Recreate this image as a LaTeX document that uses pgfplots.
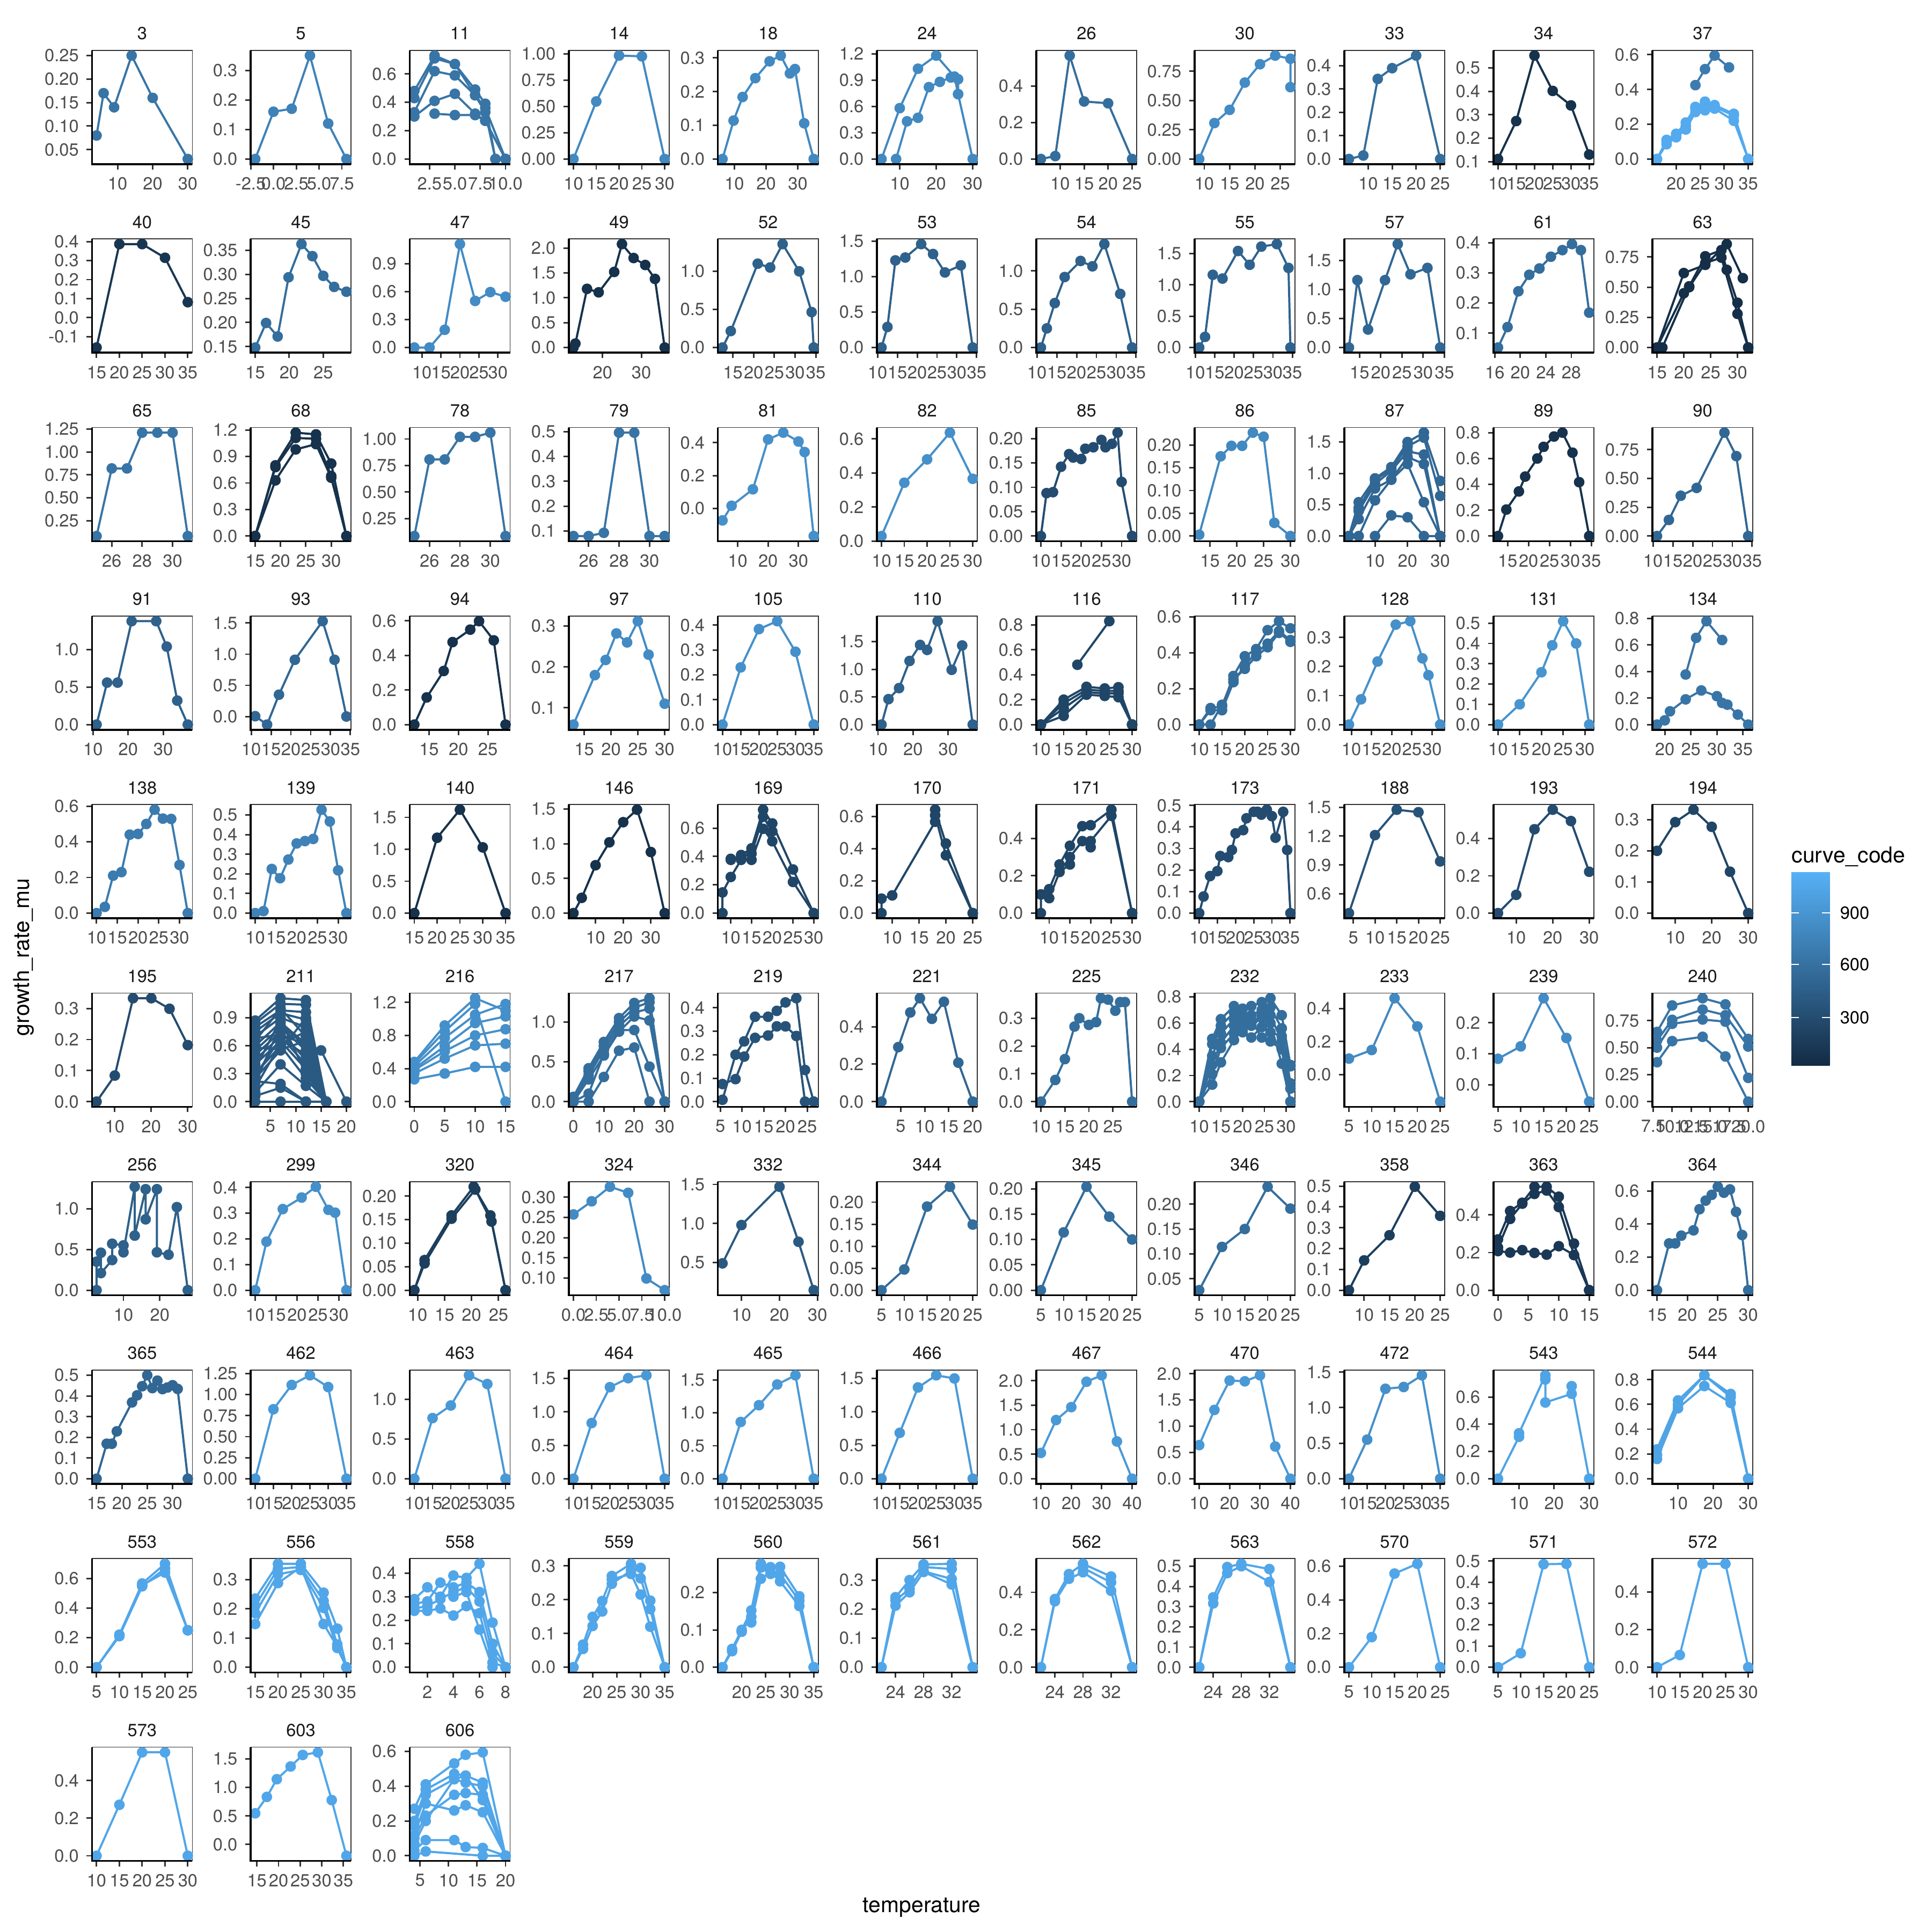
\documentclass[border=0pt]{standalone}
\usepackage{fontspec}
\setmainfont{TeX Gyre Heros}
\usepackage{pgfplots}
\pgfplotsset{compat=1.18}
\definecolor{lo}{HTML}{132B43}
\definecolor{hi}{HTML}{56B1F7}
\definecolor{gthirty}{HTML}{4D4D4D}
\definecolor{gtwenty}{HTML}{333333}
\newcommand{\tf}{\fontsize{7.84}{9}\selectfont}
\newcommand{\bigf}{\fontsize{9.8}{11}\selectfont}
\def\cA{41.14pt}\def\cB{112.08pt}\def\cC{183.24pt}\def\cD{254.40pt}\def\cE{321.05pt}\def\cF{392.16pt}
\def\cG{463.44pt}\def\cH{534.24pt}\def\cI{601.20pt}\def\cJ{667.85pt}\def\cK{738.96pt}
\def\rA{22.54pt}\def\rB{106.85pt}\def\rC{191.16pt}\def\rD{275.47pt}\def\rE{359.78pt}
\def\rF{444.09pt}\def\rG{528.40pt}\def\rH{612.71pt}\def\rI{697.02pt}\def\rJ{781.33pt}
\pgfplotsset{
  P/.style={scale only axis, width=44.88pt, height=50.88pt, anchor=north west,
    enlarge x limits=0.05, enlarge y limits=0.05,
    axis line style={line width=0.4pt, gtwenty},
    tick align=outside, tick pos=left,
    major tick length=2.4pt,
    major tick style={line width=0.7pt, gtwenty},
    minor tick num=0,
    tick label style={font=\tf, text=gthirty},
    scaled ticks=false,
    /pgf/number format/assume math mode=true,
    xticklabel style={/pgf/number format/fixed},
    yticklabel style={/pgf/number format/fixed},
    title style={font=\tf, text=black!90, at={(0.5,1)}, anchor=base, yshift=-1.2pt, inner sep=0pt},
    after end axis/.code={\draw[black, line width=0.85pt] (rel axis cs:0,1) -- (rel axis cs:0,0) -- (rel axis cs:1,0);},
  },
  yp1/.style={yticklabel style={/pgf/number format/fixed,/pgf/number format/fixed zerofill,/pgf/number format/precision=1}},
  yp2/.style={yticklabel style={/pgf/number format/fixed,/pgf/number format/fixed zerofill,/pgf/number format/precision=2}},
  xp1/.style={xticklabel style={/pgf/number format/fixed,/pgf/number format/fixed zerofill,/pgf/number format/precision=1}},
  cc/.style={color=hi!#1!lo, mark=*, line width=0.95pt, mark size=1.9pt, line join=round, mark options={solid}},
}
\begin{document}
\begin{tikzpicture}
\useasboundingbox (0,0) rectangle (864pt,-864pt);
% ---------------- row 1
\begin{axis}[P,at={(\cA,-\rA)},title={3},xtick={10,20,30},ytick={0.05,0.1,0.15,0.2,0.25},yp2]
\addplot[cc=55] coordinates {(4,0.08)(6,0.17)(9,0.14)(14,0.25)(20,0.16)(30,0.03)};
\end{axis}
\begin{axis}[P,at={(\cB,-\rA)},title={5},enlarge x limits=false,xmin=-2.505,xmax=8.5,xtick={-2.5,0,2.5,5,7.5},xp1,ytick={0,0.1,0.2,0.3},yp1]
\addplot[cc=65] coordinates {(-2,0)(0,0.16)(2,0.17)(4,0.35)(6,0.12)(8,0)};
\end{axis}
\begin{axis}[P,at={(\cC,-\rA)},title={11},xtick={2.5,5,7.5,10},xp1,ytick={0,0.2,0.4,0.6},yp1]
\addplot[cc=55] coordinates {(1,0.48)(3,0.73)(5,0.67)(7,0.49)(8,0.39)(9,0)};
\addplot[cc=55] coordinates {(1,0.43)(3,0.71)(5,0.67)(7,0.45)(8,0.36)(10,0)};
\addplot[cc=55] coordinates {(1,0.33)(3,0.62)(5,0.59)(7,0.45)(8,0.33)(9,0)};
\addplot[cc=55] coordinates {(1,0.30)(3,0.41)(5,0.46)(7,0.32)(8,0.27)(10,0)};
\addplot[cc=55] coordinates {(3,0.32)(5,0.31)(7,0.31)(8,0.27)(10,0)};
\end{axis}
\begin{axis}[P,at={(\cD,-\rA)},title={14},xtick={10,15,20,25,30},ytick={0,0.25,0.5,0.75,1},yp2]
\addplot[cc=70] coordinates {(10,0)(15,0.547)(20,0.983)(25,0.976)(30,0)};
\end{axis}
\begin{axis}[P,at={(\cE,-\rA)},title={18},xtick={10,20,30},ytick={0,0.1,0.2,0.3},yp1]
\addplot[cc=70] coordinates {(6.25,0)(9.75,0.114)(12.6,0.184)(16.6,0.24)(21.1,0.29)(24.6,0.307)(27.5,0.254)(29.1,0.267)(32,0.106)(35,0)};
\end{axis}
\begin{axis}[P,at={(\cF,-\rA)},title={24},xtick={10,20,30},ytick={0,0.3,0.6,0.9,1.2},yp1]
\addplot[cc=70] coordinates {(5,0)(10,0.58)(15,1.03)(20,1.18)(25,0.94)(26,0.74)(30,0)};
\addplot[cc=70] coordinates {(9,0)(12,0.43)(15,0.47)(18,0.82)(21,0.88)(24,0.93)(26,0.91)(26,0.74)};
\end{axis}
\begin{axis}[P,at={(\cG,-\rA)},title={26},xtick={10,15,20,25},ytick={0,0.2,0.4},yp1]
\addplot[cc=50] coordinates {(6,0)(9,0.016)(12,0.568)(15,0.316)(20,0.306)(25,0)};
\end{axis}
\begin{axis}[P,at={(\cH,-\rA)},title={30},xtick={10,15,20,25},ytick={0,0.25,0.5,0.75},yp2]
\addplot[cc=72] coordinates {(9,0)(12,0.307)(15,0.42)(18,0.653)(21,0.81)(24,0.884)(27,0.857)(27,0.614)};
\end{axis}
\begin{axis}[P,at={(\cI,-\rA)},title={33},xtick={10,15,20,25},ytick={0,0.1,0.2,0.3,0.4},yp1]
\addplot[cc=50] coordinates {(6,0)(9,0.015)(12,0.343)(15,0.389)(20,0.443)(25,0)};
\end{axis}
\begin{axis}[P,at={(\cJ,-\rA)},title={34},xtick={10,15,20,25,30,35},ytick={0.1,0.2,0.3,0.4,0.5},yp1]
\addplot[cc=5] coordinates {(10,0.111)(15,0.273)(20,0.553)(25,0.402)(30,0.34)(35,0.13)};
\end{axis}
\begin{axis}[P,at={(\cK,-\rA)},title={37},xtick={20,25,30,35},ytick={0,0.2,0.4,0.6},yp1]
\addplot[cc=60] coordinates {(24,0.425)(26,0.517)(28,0.595)(31,0.527)};
\addplot[cc=95] coordinates {(16,0)(18,0.11)(20,0.145)(22,0.21)(24,0.30)(26,0.33)(28,0.31)(32,0.26)(35,0)};
\addplot[cc=95] coordinates {(16,0)(18,0.085)(20,0.125)(22,0.17)(24,0.27)(26,0.28)(28,0.29)(32,0.22)(35,0)};
\addplot[cc=95] coordinates {(18,0.10)(20,0.135)(22,0.19)(24,0.29)(26,0.31)(28,0.30)(32,0.25)};
\end{axis}
% ---------------- row 2
\begin{axis}[P,at={(\cA,-\rB)},title={40},xtick={15,20,25,30,35},ytick={-0.1,0,0.1,0.2,0.3,0.4},yp1]
\addplot[cc=8] coordinates {(15,-0.158)(20,0.387)(25,0.387)(30,0.315)(35,0.081)};
\end{axis}
\begin{axis}[P,at={(\cB,-\rB)},title={45},xtick={15,20,25},ytick={0.15,0.2,0.25,0.3,0.35},yp2]
\addplot[cc=50] coordinates {(15,0.148)(16.6,0.199)(18.3,0.171)(19.9,0.294)(21.8,0.363)(23.4,0.338)(25,0.297)(26.6,0.274)(28.4,0.264)};
\end{axis}
\begin{axis}[P,at={(\cC,-\rB)},title={47},xtick={10,15,20,25,30},ytick={0,0.3,0.6,0.9},yp1]
\addplot[cc=72] coordinates {(8,0)(12,0)(16,0.19)(20,1.11)(24,0.5)(28,0.595)(32,0.545)};
\end{axis}
\begin{axis}[P,at={(\cD,-\rB)},title={49},xtick={20,30},ytick={0,0.5,1,1.5,2},yp1]
\addplot[cc=5] coordinates {(12.5,0)(13,0.08)(16,1.18)(19,1.11)(23,1.52)(25,2.08)(28,1.80)(31,1.66)(33.5,1.38)(36,0)};
\end{axis}
\begin{axis}[P,at={(\cE,-\rB)},title={52},xtick={15,20,25,30,35},ytick={0,0.5,1},yp1]
\addplot[cc=40] coordinates {(12.5,0)(14.5,0.216)(21,1.10)(24,1.05)(27,1.357)(31,1.0)(34,0.465)(34.5,0)};
\end{axis}
\begin{axis}[P,at={(\cF,-\rB)},title={53},xtick={10,15,20,25,30,35},ytick={0,0.5,1,1.5},yp1]
\addplot[cc=40] coordinates {(11,0)(12.5,0.29)(14.5,1.23)(17,1.27)(21,1.46)(24,1.32)(27,1.06)(31,1.16)(34,0)};
\end{axis}
\begin{axis}[P,at={(\cG,-\rB)},title={54},xtick={10,15,20,25,30,35},ytick={0,0.5,1},yp1]
\addplot[cc=40] coordinates {(11,0)(12.5,0.25)(14.5,0.58)(17,0.92)(21,1.13)(24,1.06)(27,1.35)(31,0.70)(34,0)};
\end{axis}
\begin{axis}[P,at={(\cH,-\rB)},title={55},xtick={10,15,20,25,30,35},ytick={0,0.5,1,1.5},yp1]
\addplot[cc=42] coordinates {(11,0)(12.5,0.17)(14.5,1.16)(17,1.10)(21,1.54)(24,1.32)(27,1.61)(31,1.65)(34,1.27)(34.5,0)};
\end{axis}
\begin{axis}[P,at={(\cI,-\rB)},title={57},xtick={15,20,25,30,35},ytick={0,0.5,1,1.5},yp1]
\addplot[cc=45] coordinates {(12.5,0)(14.5,1.16)(17,0.31)(21,1.16)(24,1.78)(27,1.26)(31,1.37)(34,0)};
\end{axis}
\begin{axis}[P,at={(\cJ,-\rB)},title={61},xtick={16,20,24,28},ytick={0.1,0.2,0.3,0.4},yp1]
\addplot[cc=50] coordinates {(16.5,0.052)(18,0.12)(19.7,0.239)(21.4,0.294)(23,0.315)(24.8,0.354)(26.6,0.376)(28.1,0.396)(29.5,0.376)(30.8,0.168)};
\end{axis}
\begin{axis}[P,at={(\cK,-\rB)},title={63},xtick={15,20,25,30},ytick={0,0.25,0.5,0.75},yp2]
\addplot[cc=3] coordinates {(15,0)(20,0.617)(24,0.685)(28,0.857)(31,0.575)};
\addplot[cc=3] coordinates {(16,0)(21,0.507)(24,0.756)(27,0.807)(28,0.644)(30,0.371)(32,0)};
\addplot[cc=3] coordinates {(15,0)(20,0.45)(21,0.50)(24,0.70)(27,0.745)(30,0.279)(32,0)};
\end{axis}
% ---------------- row 3
\begin{axis}[P,at={(\cA,-\rC)},title={65},xtick={26,28,30},ytick={0.25,0.5,0.75,1,1.25},yp2]
\addplot[cc=55] coordinates {(25,0.083)(26,0.82)(27,0.82)(28,1.21)(29,1.21)(30,1.21)(31,0.083)};
\end{axis}
\begin{axis}[P,at={(\cB,-\rC)},title={68},xtick={15,20,25,30},ytick={0,0.3,0.6,0.9,1.2},yp1]
\addplot[cc=5] coordinates {(15,0)(19,0.80)(23,1.17)(27,1.15)(30,0.82)(33,0)};
\addplot[cc=5] coordinates {(15,0)(19,0.78)(23,1.11)(27,1.10)(30,0.68)(33,0)};
\addplot[cc=5] coordinates {(15,0)(19,0.63)(23,0.98)(27,1.04)(30,0.66)(33,0)};
\end{axis}
\begin{axis}[P,at={(\cC,-\rC)},title={78},xtick={26,28,30},ytick={0.25,0.5,0.75,1},yp2]
\addplot[cc=55] coordinates {(25,0.084)(26,0.807)(27,0.807)(28,1.02)(29,1.02)(30,1.06)(31,0.084)};
\end{axis}
\begin{axis}[P,at={(\cD,-\rC)},title={79},xtick={26,28,30},ytick={0.1,0.2,0.3,0.4,0.5},yp1]
\addplot[cc=55] coordinates {(25,0.08)(26,0.08)(27,0.093)(28,0.496)(29,0.496)(30,0.08)(31,0.08)};
\end{axis}
\begin{axis}[P,at={(\cE,-\rC)},title={81},xtick={10,20,30},ytick={0,0.2,0.4},yp1]
\addplot[cc=75] coordinates {(5,-0.072)(8,0.017)(15,0.117)(20,0.42)(25,0.461)(30,0.407)(32,0.343)(35,-0.167)};
\end{axis}
\begin{axis}[P,at={(\cF,-\rC)},title={82},xtick={10,15,20,25,30},ytick={0,0.2,0.4,0.6},yp1]
\addplot[cc=75] coordinates {(10,0.03)(15,0.343)(20,0.48)(25,0.637)(30,0.366)};
\end{axis}
\begin{axis}[P,at={(\cG,-\rC)},title={85},xtick={10,15,20,25,30},ytick={0,0.05,0.1,0.15,0.2},yp2]
\addplot[cc=25] coordinates {(10,0)(11.4,0.088)(13,0.09)(15,0.142)(17,0.168)(18,0.161)(20,0.158)(21,0.179)(23,0.182)(25,0.197)(26,0.182)(27.6,0.189)(29,0.212)(30,0.111)(32.6,0)};
\end{axis}
\begin{axis}[P,at={(\cH,-\rC)},title={86},xtick={15,20,25,30},ytick={0,0.05,0.1,0.15,0.2},yp2]
\addplot[cc=70] coordinates {(13,0.003)(17,0.175)(19,0.198)(21,0.198)(23,0.227)(25,0.218)(27,0.029)(30,0)};
\end{axis}
\begin{axis}[P,at={(\cI,-\rC)},title={87},xtick={10,20,30},ytick={0,0.5,1,1.5},yp1]
\addplot[cc=45] coordinates {(2,0)(5,0.54)(10,0.92)(15,1.10)(20,1.50)(25,1.65)(30,0.88)};
\addplot[cc=45] coordinates {(2,0)(5,0.45)(10,0.89)(15,1.07)(20,1.43)(25,1.57)(30,0.64)};
\addplot[cc=45] coordinates {(2,0)(5,0.40)(10,0.83)(15,1.04)(20,1.35)(25,1.30)(30,0)};
\addplot[cc=45] coordinates {(2,0)(5,0.27)(10,0.76)(15,0.90)(20,1.26)(25,1.15)(30,0)};
\addplot[cc=45] coordinates {(2,0)(5,0)(10,0.57)(15,0.90)(20,1.15)(25,0.54)(30,0)};
\addplot[cc=45] coordinates {(10,0)(15,0.33)(20,0.30)(25,0)(30,0)};
\end{axis}
\begin{axis}[P,at={(\cJ,-\rC)},title={89},xtick={15,20,25,30,35},ytick={0,0.2,0.4,0.6,0.8},yp1]
\addplot[cc=5] coordinates {(12.7,0)(14.7,0.205)(17.7,0.345)(19.2,0.46)(22.1,0.60)(23.6,0.69)(26.1,0.77)(28.1,0.80)(30.5,0.645)(32.1,0.417)(34.5,0)};
\end{axis}
\begin{axis}[P,at={(\cK,-\rC)},title={90},xtick={10,15,20,25,30,35},ytick={0,0.25,0.5,0.75},yp2]
\addplot[cc=45] coordinates {(11,0)(14,0.14)(17,0.35)(21,0.418)(28,0.898)(31,0.694)(34,0)};
\end{axis}
% ---------------- row 4
\begin{axis}[P,at={(\cA,-\rD)},title={91},xtick={10,20,30},ytick={0,0.5,1},yp1]
\addplot[cc=40] coordinates {(11,0)(14,0.56)(17,0.56)(21,1.38)(28,1.38)(31,1.04)(34,0.32)(37,0)};
\end{axis}
\begin{axis}[P,at={(\cB,-\rD)},title={93},xtick={10,15,20,25,30,35},ytick={0,0.5,1,1.5},yp1]
\addplot[cc=45] coordinates {(11,0.005)(14,-0.13)(17,0.35)(21,0.91)(28,1.53)(31,0.91)(34,0)};
\end{axis}
\begin{axis}[P,at={(\cC,-\rD)},title={94},xtick={15,20,25},ytick={0,0.2,0.4,0.6},yp1]
\addplot[cc=5] coordinates {(12.5,0)(14.6,0.157)(17.5,0.31)(19,0.477)(22,0.549)(23.5,0.598)(26,0.487)(28,0)};
\end{axis}
\begin{axis}[P,at={(\cD,-\rD)},title={97},xtick={15,20,25,30},ytick={0.1,0.2,0.3},yp1]
\addplot[cc=72] coordinates {(13,0.059)(17,0.18)(19,0.217)(21,0.282)(23,0.26)(25,0.312)(27,0.23)(30,0.11)};
\end{axis}
\begin{axis}[P,at={(\cE,-\rD)},title={105},xtick={10,15,20,25,30,35},ytick={0,0.1,0.2,0.3,0.4},yp1]
\addplot[cc=75] coordinates {(10,0)(15,0.23)(20,0.384)(25,0.416)(30,0.293)(35,0)};
\end{axis}
\begin{axis}[P,at={(\cF,-\rD)},title={110},xtick={10,20,30},ytick={0,0.5,1,1.5},yp1]
\addplot[cc=40] coordinates {(11,0)(13,0.46)(16,0.66)(19,1.15)(22,1.44)(24,1.35)(27,1.87)(31,0.99)(34,1.43)(37,0)};
\end{axis}
\begin{axis}[P,at={(\cG,-\rD)},title={116},xtick={10,15,20,25,30},ytick={0,0.2,0.4,0.6,0.8},yp1]
\addplot[cc=20] coordinates {(10,0)(15,0.20)(20,0.303)(24,0.29)(27,0.30)(30,0)};
\addplot[cc=20] coordinates {(10,0)(15,0.17)(20,0.28)(24,0.27)(27,0.27)(30,0)};
\addplot[cc=20] coordinates {(10,0)(15,0.13)(20,0.26)(24,0.25)(27,0.25)(30,0)};
\addplot[cc=20] coordinates {(10,0)(15,0.07)(20,0.24)(24,0.23)(27,0.22)(30,0)};
\addplot[cc=20] coordinates {(18,0.48)(25,0.83)};
\end{axis}
\begin{axis}[P,at={(\cH,-\rD)},title={117},xtick={10,15,20,25,30},ytick={0,0.2,0.4,0.6},yp1]
\addplot[cc=50] coordinates {(10,0)(12.5,0.092)(15,0.10)(17.5,0.27)(20,0.38)(22.5,0.42)(25,0.525)(27.5,0.575)(30,0.535)};
\addplot[cc=50] coordinates {(10,0)(12.5,0.08)(15,0.08)(17.5,0.236)(20,0.33)(22.5,0.40)(25,0.45)(27.5,0.52)(30,0.47)};
\addplot[cc=50] coordinates {(10,0)(12.5,0)(15,0.11)(17.5,0.25)(20,0.31)(22.5,0.38)(25,0.43)(27.5,0.51)(30,0.46)};
\end{axis}
\begin{axis}[P,at={(\cI,-\rD)},title={128},xtick={10,15,20,25,30},ytick={0,0.1,0.2,0.3},yp1]
\addplot[cc=75] coordinates {(9.4,0)(12.4,0.087)(16.5,0.217)(21,0.344)(24.6,0.356)(27.6,0.228)(29.1,0.17)(32,0)};
\end{axis}
\begin{axis}[P,at={(\cJ,-\rD)},title={131},xtick={10,15,20,25,30},ytick={0,0.1,0.2,0.3,0.4,0.5},yp1]
\addplot[cc=78] coordinates {(10,0)(15,0.10)(20,0.258)(22.5,0.391)(25,0.51)(28,0.40)(31,0)};
\end{axis}
\begin{axis}[P,at={(\cK,-\rD)},title={134},xtick={20,25,30,35},ytick={0,0.2,0.4,0.6,0.8},yp1]
\addplot[cc=55] coordinates {(24,0.377)(26,0.653)(28,0.779)(31,0.637)};
\addplot[cc=55] coordinates {(18.5,0)(20,0.032)(21,0.10)(24,0.19)(27,0.257)(30,0.214)(31,0.163)(32,0.15)(34,0.075)(36,0)};
\end{axis}
% ---------------- row 5
\begin{axis}[P,at={(\cA,-\rE)},title={138},xtick={10,15,20,25,30},ytick={0,0.2,0.4,0.6},yp1]
\addplot[cc=60] coordinates {(10,0)(12,0.035)(14,0.21)(16,0.23)(18,0.44)(20,0.444)(22,0.50)(24,0.58)(26,0.53)(28,0.528)(30,0.27)(32,0)};
\end{axis}
\begin{axis}[P,at={(\cB,-\rE)},title={139},xtick={10,15,20,25,30},ytick={0,0.1,0.2,0.3,0.4,0.5},yp1]
\addplot[cc=65] coordinates {(10,0)(12,0.01)(14,0.225)(16,0.178)(18,0.273)(20,0.355)(22,0.367)(24,0.378)(26,0.527)(28,0.467)(30,0.218)(32,0)};
\end{axis}
\begin{axis}[P,at={(\cC,-\rE)},title={140},xtick={15,20,25,30,35},ytick={0,0.5,1,1.5},yp1]
\addplot[cc=5] coordinates {(15,0)(20,1.18)(25,1.62)(30,1.03)(35,0)};
\end{axis}
\begin{axis}[P,at={(\cD,-\rE)},title={146},xtick={10,20,30},ytick={0,0.5,1,1.5},yp1]
\addplot[cc=5] coordinates {(2,0)(5,0.22)(10,0.69)(15,1.02)(20,1.31)(25,1.49)(30,0.88)(35,0)};
\end{axis}
\begin{axis}[P,at={(\cE,-\rE)},title={169},xtick={10,15,20,25,30},ytick={0,0.2,0.4,0.6},yp1]
\addplot[cc=20] coordinates {(8,0)(8,0.146)(10,0.255)(12.5,0.376)(15,0.376)(17.8,0.595)(20,0.507)(25,0.22)(30,0)};
\addplot[cc=20] coordinates {(10,0.376)(12.5,0.41)(15,0.457)(17.8,0.73)(20,0.633)(25,0.308)(30,0)};
\addplot[cc=20] coordinates {(10,0.383)(12.5,0.39)(15,0.42)(17.8,0.68)(20,0.577)};
\end{axis}
\begin{axis}[P,at={(\cF,-\rE)},title={170},xtick={10,15,20,25},ytick={0,0.2,0.4,0.6},yp1]
\addplot[cc=20] coordinates {(8,0)(8,0.09)(10,0.11)(18,0.567)(18,0.642)(20,0.432)(25,0)};
\addplot[cc=20] coordinates {(18,0.607)(20,0.359)(25,0)};
\end{axis}
\begin{axis}[P,at={(\cG,-\rE)},title={171},xtick={10,15,20,25,30},ytick={0,0.2,0.4},yp1]
\addplot[cc=20] coordinates {(8,0)(8,0.10)(10,0.128)(12.5,0.26)(15,0.36)(18,0.465)(20,0.47)(25,0.553)(30,0)};
\addplot[cc=20] coordinates {(8,0.10)(10,0.08)(12.5,0.22)(15,0.26)(15,0.30)(18,0.385)(20,0.352)(20,0.385)(25,0.52)(30,0)};
\end{axis}
\begin{axis}[P,at={(\cH,-\rE)},title={173},xtick={10,15,20,25,30,35},ytick={0,0.1,0.2,0.3,0.4,0.5},yp1]
\addplot[cc=25] coordinates {(10,0)(11.2,0.077)(13,0.172)(15,0.195)(15.8,0.265)(18,0.26)(19,0.293)(20,0.37)(22.1,0.385)(23,0.44)(25,0.47)(26.1,0.47)(27.1,0.457)(28.6,0.48)(30,0.45)(31,0.35)(33.1,0.47)(34.2,0.293)(35.1,0)};
\end{axis}
\begin{axis}[P,at={(\cI,-\rE)},title={188},xtick={5,10,15,20,25},ytick={0.6,0.9,1.2,1.5},yp1]
\addplot[cc=30] coordinates {(4,0.40)(10,1.21)(15,1.474)(20,1.448)(25,0.937)};
\end{axis}
\begin{axis}[P,at={(\cJ,-\rE)},title={193},xtick={10,20,30},ytick={0,0.2,0.4},yp1]
\addplot[cc=25] coordinates {(5,0)(10,0.098)(15,0.45)(20,0.555)(25,0.494)(30,0.222)};
\end{axis}
\begin{axis}[P,at={(\cK,-\rE)},title={194},xtick={10,20,30},ytick={0,0.1,0.2,0.3},yp1]
\addplot[cc=20] coordinates {(5,0.20)(10,0.292)(15,0.332)(20,0.277)(25,0.133)(30,0)};
\end{axis}
% ---------------- row 6
\begin{axis}[P,at={(\cA,-\rF)},title={195},xtick={10,20,30},ytick={0,0.1,0.2,0.3},yp1]
\addplot[cc=25] coordinates {(5,0)(10,0.084)(15,0.333)(20,0.333)(25,0.299)(30,0.182)};
\end{axis}
\begin{axis}[P,at={(\cB,-\rF)},title={211},xtick={5,10,15,20},ytick={0,0.3,0.6,0.9},yp1]
\addplot[cc=35] coordinates {(2,0.87)(7,1.11)(12,1.09)(16,0)};
\addplot[cc=35] coordinates {(2,0.84)(7,1.05)(12,1.04)(16,0)};
\addplot[cc=35] coordinates {(2,0.80)(7,0.98)(12,0.96)(16,0)};
\addplot[cc=35] coordinates {(2,0.75)(7,0.95)(12,0.88)(16,0)};
\addplot[cc=35] coordinates {(2,0.70)(7,0.90)(12,0.80)(16,0)};
\addplot[cc=35] coordinates {(2,0.65)(7,1.00)(12,0.70)(16,0)};
\addplot[cc=35] coordinates {(2,0.60)(7,0.85)(12,0.62)(16,0)};
\addplot[cc=35] coordinates {(2,0.55)(7,0.80)(12,0.55)(16,0)};
\addplot[cc=35] coordinates {(2,0.50)(7,0.75)(12,0.45)(16,0)};
\addplot[cc=35] coordinates {(2,0.45)(7,0.70)(12,0.40)(16,0)};
\addplot[cc=35] coordinates {(2,0.40)(7,0.65)(12,0.35)(16,0)};
\addplot[cc=35] coordinates {(2,0.35)(7,0.88)(12,0.30)(16,0)};
\addplot[cc=35] coordinates {(2,0.30)(7,0.60)(12,0.25)(16,0)};
\addplot[cc=35] coordinates {(2,0.25)(7,0.55)(12,0.90)(16,0)};
\addplot[cc=35] coordinates {(2,0.20)(7,0.82)(12,0.60)(16,0)};
\addplot[cc=35] coordinates {(2,0.15)(7,0.62)(12,0.75)(16,0)};
\addplot[cc=35] coordinates {(2,0.10)(7,0.40)(12,0.17)(16,0)};
\addplot[cc=35] coordinates {(2,0.22)(7,0.19)(12,0)(16,0)};
\addplot[cc=35] coordinates {(2,0.06)(7,0.15)(12,0)(16,0)};
\addplot[cc=35] coordinates {(2,0)(7,0)(12,0)(16,0)};
\addplot[cc=35] coordinates {(2,0.68)(7,0.72)(15,0.55)(20,0)};
\addplot[cc=35] coordinates {(2,0.58)(7,0.56)(12,0.65)(16,0)};
\addplot[cc=35] coordinates {(2,0.28)(7,0.68)(12,0.50)(16,0)};
\end{axis}
\begin{axis}[P,at={(\cC,-\rF)},title={216},xtick={0,5,10,15},ytick={0,0.4,0.8,1.2},yp1]
\addplot[cc=75] coordinates {(0,0.48)(5,0.92)(10,1.25)(15,1.10)};
\addplot[cc=75] coordinates {(0,0.46)(5,0.85)(10,1.18)(15,0)};
\addplot[cc=75] coordinates {(0,0.43)(5,0.77)(10,1.05)(15,1.18)};
\addplot[cc=75] coordinates {(0,0.40)(5,0.67)(10,0.95)(15,1.03)};
\addplot[cc=75] coordinates {(0,0.38)(5,0.61)(10,0.80)(15,0.875)};
\addplot[cc=75] coordinates {(0,0.34)(5,0.52)(10,0.68)(15,0.70)};
\addplot[cc=75] coordinates {(0,0.27)(5,0.34)(10,0.42)(15,0.42)};
\end{axis}
\begin{axis}[P,at={(\cD,-\rF)},title={217},xtick={0,10,20,30},ytick={0,0.5,1},yp1]
\addplot[cc=50] coordinates {(0,0.06)(5,0.42)(10,0.75)(15,1.05)(20,1.24)(25,1.30)(30,0)};
\addplot[cc=50] coordinates {(0,0.03)(5,0.38)(10,0.70)(15,1.00)(20,1.18)(25,1.25)(30,0)};
\addplot[cc=50] coordinates {(0,0)(5,0.33)(10,0.65)(15,0.95)(20,1.12)(25,1.17)(30,0)};
\addplot[cc=50] coordinates {(0,0)(5,0.28)(10,0.58)(15,0.88)(20,1.07)(25,1.02)(30,0)};
\addplot[cc=50] coordinates {(0,0)(5,0.10)(10,0.60)(15,0.90)(20,0.90)(25,0.44)(30,0)};
\addplot[cc=50] coordinates {(0,0)(5,0)(10,0.31)(15,0.64)(20,0.68)(25,0)};
\end{axis}
\begin{axis}[P,at={(\cE,-\rF)},title={219},xtick={5,10,15,20,25},ytick={0,0.1,0.2,0.3,0.4},yp1]
\addplot[cc=30] coordinates {(5.5,0.008)(8.5,0.20)(10.5,0.257)(13,0.362)(16,0.362)(18,0.387)(20,0.423)(22.5,0.441)(24.5,0.135)(26.5,0)};
\addplot[cc=30] coordinates {(5.5,0.075)(8.5,0.096)(10.5,0.192)(13,0.272)(16,0.282)(18,0.321)(20,0.321)(22.5,0.28)(24.5,0)(26.5,0)};
\end{axis}
\begin{axis}[P,at={(\cF,-\rF)},title={221},xtick={5,10,15,20},ytick={0,0.2,0.4},yp1]
\addplot[cc=45] coordinates {(1,0)(4.5,0.291)(7,0.476)(9,0.552)(11.5,0.442)(14,0.533)(17,0.208)(20,0)};
\end{axis}
\begin{axis}[P,at={(\cG,-\rF)},title={225},xtick={10,15,20,25},ytick={0,0.1,0.2,0.3},yp1]
\addplot[cc=50] coordinates {(10,0)(13,0.078)(15,0.153)(17,0.27)(18,0.30)(20,0.276)(21.5,0.286)(22.5,0.372)(24,0.367)(25.5,0.327)(26.5,0.358)(27.5,0.358)(29,0)};
\end{axis}
\begin{axis}[P,at={(\cH,-\rF)},title={232},xtick={10,15,20,25,30},ytick={0,0.2,0.4,0.6,0.8},yp1]
\addplot[cc=50] coordinates {(10,0)(13,0.48)(15,0.63)(18,0.73)(20,0.71)(22,0.73)(24.4,0.76)(26.4,0.79)(29,0.66)(31,0.28)};
\addplot[cc=50] coordinates {(10,0)(13,0.44)(15,0.58)(18,0.68)(20,0.66)(22,0.66)(24.4,0.70)(26.4,0.72)(29,0.56)(31,0.14)};
\addplot[cc=50] coordinates {(10,0)(13,0.35)(15,0.52)(18,0.63)(20,0.60)(22,0.58)(24.4,0.64)(26.4,0.66)(29,0.46)(31,0.10)};
\addplot[cc=50] coordinates {(10,0)(13,0.28)(15,0.45)(18,0.58)(20,0.53)(22,0.49)(24.4,0.57)(26.4,0.60)(29,0.29)(31,0)};
\addplot[cc=50] coordinates {(10,0)(13,0.21)(15,0.41)(18,0.52)(20,0.62)(22,0.62)(24.4,0.49)(26.4,0.53)(29,0.50)(31,0.27)};
\addplot[cc=50] coordinates {(10,0)(13,0.13)(15,0.30)(18,0.47)(20,0.56)(22,0.60)(24.4,0.66)(26.4,0.46)(29,0.40)(31,0)};
\end{axis}
\begin{axis}[P,at={(\cI,-\rF)},title={233},xtick={5,10,15,20,25},ytick={0,0.2,0.4},yp1]
\addplot[cc=70] coordinates {(5,0.097)(10,0.149)(15,0.463)(20,0.292)(25,-0.164)};
\end{axis}
\begin{axis}[P,at={(\cJ,-\rF)},title={239},xtick={5,10,15,20,25},ytick={0,0.1,0.2},yp1]
\addplot[cc=72] coordinates {(5,0.084)(10,0.124)(15,0.279)(20,0.151)(25,-0.054)};
\end{axis}
\begin{axis}[P,at={(\cK,-\rF)},title={240},xtick={7.5,10,12.5,15,17.5,20},xp1,ytick={0,0.25,0.5,0.75},yp2]
\addplot[cc=55] coordinates {(8,0.645)(10,0.89)(14,0.957)(17,0.90)(20,0.58)};
\addplot[cc=55] coordinates {(8,0.565)(10,0.757)(14,0.852)(17,0.80)(20,0.51)};
\addplot[cc=55] coordinates {(8,0.50)(10,0.72)(14,0.76)(17,0.74)(20,0.22)};
\addplot[cc=55] coordinates {(8,0.365)(10,0.56)(14,0.60)(17,0.418)(20,0)};
\end{axis}
% ---------------- row 7
\begin{axis}[P,at={(\cA,-\rG)},title={256},xtick={10,20},ytick={0,0.5,1},yp1]
\addplot[cc=40] coordinates {(2.6,0)(2.6,0.35)(3.8,0.46)(3.8,0.21)(6.9,0.37)(6.9,0.57)(10,0.55)(10,0.465)(13.1,1.27)(13.1,0.67)(16.1,1.24)(16.1,0.87)(19.2,1.24)(19.2,0.465)(22.4,0.435)(24.7,1.02)(27.7,0)};
\end{axis}
\begin{axis}[P,at={(\cB,-\rG)},title={299},xtick={10,15,20,25,30},ytick={0,0.1,0.2,0.3,0.4},yp1]
\addplot[cc=75] coordinates {(10,0)(12.7,0.189)(16.6,0.316)(21.1,0.361)(24.5,0.403)(27.5,0.313)(29.1,0.302)(31.8,0)};
\end{axis}
\begin{axis}[P,at={(\cC,-\rG)},title={320},xtick={10,15,20,25},ytick={0,0.05,0.1,0.15,0.2},yp2]
\addplot[cc=15] coordinates {(9.4,0)(11.3,0.064)(16.3,0.159)(20.4,0.22)(23.5,0.159)(26.3,0)};
\addplot[cc=15] coordinates {(9.4,0)(11.3,0.057)(16.3,0.152)(20.7,0.214)(23.7,0.146)(26.3,0)};
\end{axis}
\begin{axis}[P,at={(\cD,-\rG)},title={324},xtick={0,2.5,5,7.5,10},xp1,ytick={0.1,0.15,0.2,0.25,0.3},yp2]
\addplot[cc=72] coordinates {(0,0.2575)(2,0.29)(4,0.326)(6,0.311)(8,0.099)(10,0.07)};
\end{axis}
\begin{axis}[P,at={(\cE,-\rG)},title={332},xtick={10,20,30},ytick={0.5,1,1.5},yp1]
\addplot[cc=35] coordinates {(5,0.49)(10,0.98)(20,1.47)(25,0.766)(29,0.147)};
\end{axis}
\begin{axis}[P,at={(\cF,-\rG)},title={344},xtick={5,10,15,20,25},ytick={0,0.05,0.1,0.15,0.2},yp2]
\addplot[cc=50] coordinates {(5,0)(10,0.047)(15,0.19)(20,0.235)(25,0.149)};
\end{axis}
\begin{axis}[P,at={(\cG,-\rG)},title={345},xtick={5,10,15,20,25},ytick={0,0.05,0.1,0.15,0.2},yp2]
\addplot[cc=50] coordinates {(5,0)(10,0.114)(15,0.204)(20,0.145)(25,0.10)};
\end{axis}
\begin{axis}[P,at={(\cH,-\rG)},title={346},xtick={5,10,15,20,25},ytick={0.05,0.1,0.15,0.2},yp2]
\addplot[cc=50] coordinates {(5,0.027)(10,0.114)(15,0.15)(20,0.235)(25,0.191)};
\end{axis}
\begin{axis}[P,at={(\cI,-\rG)},title={358},xtick={10,15,20,25},ytick={0,0.1,0.2,0.3,0.4,0.5},yp1]
\addplot[cc=15] coordinates {(7,0)(10,0.143)(15,0.264)(20,0.497)(25,0.357)};
\end{axis}
\begin{axis}[P,at={(\cJ,-\rG)},title={363},xtick={0,5,10,15},ytick={0,0.2,0.4},yp1]
\addplot[cc=10] coordinates {(0,0.27)(2,0.421)(4,0.465)(6,0.55)(8,0.55)(10,0.497)(12.5,0.248)(15,0)};
\addplot[cc=10] coordinates {(0,0.227)(2,0.379)(4,0.46)(6,0.512)(8,0.53)(10,0.442)(12.5,0.187)(15,0)};
\addplot[cc=10] coordinates {(0,0.208)(2,0.20)(4,0.213)(6,0.198)(8,0.189)(10,0.234)(12.5,0.187)(15,0)};
\end{axis}
\begin{axis}[P,at={(\cK,-\rG)},title={364},xtick={15,20,25,30},ytick={0,0.2,0.4,0.6},yp1]
\addplot[cc=50] coordinates {(15,0)(17,0.283)(18,0.283)(19,0.33)(21,0.362)(22,0.49)(23,0.542)(24,0.577)(25,0.626)(26,0.59)(27,0.61)(28,0.474)(29,0.334)(30,0)};
\end{axis}
% ---------------- row 8
\begin{axis}[P,at={(\cA,-\rH)},title={365},xtick={15,20,25,30},ytick={0,0.1,0.2,0.3,0.4,0.5},yp1]
\addplot[cc=45] coordinates {(15,0)(17,0.169)(18,0.169)(19,0.229)(22,0.369)(23,0.403)(24,0.447)(25,0.50)(26,0.438)(27,0.474)(28,0.433)(29,0.441)(30,0.452)(31,0.434)(33,0)};
\end{axis}
\begin{axis}[P,at={(\cB,-\rH)},title={462},xtick={10,15,20,25,30,35},ytick={0,0.25,0.5,0.75,1,1.25},yp2]
\addplot[cc=82] coordinates {(10,0)(15,0.826)(20,1.115)(25,1.23)(30,1.09)(35,0)};
\end{axis}
\begin{axis}[P,at={(\cC,-\rH)},title={463},xtick={10,15,20,25,30,35},ytick={0,0.5,1},yp1]
\addplot[cc=82] coordinates {(10,0)(15,0.762)(20,0.92)(25,1.30)(30,1.19)(35,0)};
\end{axis}
\begin{axis}[P,at={(\cD,-\rH)},title={464},xtick={10,15,20,25,30,35},ytick={0,0.5,1,1.5},yp1]
\addplot[cc=82] coordinates {(10,0)(15,0.833)(20,1.37)(25,1.505)(30,1.548)(35,0)};
\end{axis}
\begin{axis}[P,at={(\cE,-\rH)},title={465},xtick={10,15,20,25,30,35},ytick={0,0.5,1,1.5},yp1]
\addplot[cc=82] coordinates {(10,0)(15,0.861)(20,1.116)(25,1.43)(30,1.57)(35,0)};
\end{axis}
\begin{axis}[P,at={(\cF,-\rH)},title={466},xtick={10,15,20,25,30,35},ytick={0,0.5,1,1.5},yp1]
\addplot[cc=82] coordinates {(10,0)(15,0.686)(20,1.366)(25,1.548)(30,1.5)(35,0)};
\end{axis}
\begin{axis}[P,at={(\cG,-\rH)},title={467},xtick={10,20,30,40},ytick={0,0.5,1,1.5,2},yp1]
\addplot[cc=82] coordinates {(10,0.526)(15,1.197)(20,1.46)(25,1.978)(30,2.11)(35,0.76)(40,0)};
\end{axis}
\begin{axis}[P,at={(\cH,-\rH)},title={470},xtick={10,20,30,40},ytick={0,0.5,1,1.5,2},yp1]
\addplot[cc=82] coordinates {(10,0.64)(15,1.31)(20,1.87)(25,1.855)(30,1.97)(35,0.614)(40,0)};
\end{axis}
\begin{axis}[P,at={(\cI,-\rH)},title={472},xtick={10,15,20,25,30,35},ytick={0,0.5,1,1.5},yp1]
\addplot[cc=75] coordinates {(10,0)(15,0.55)(20,1.265)(25,1.29)(30,1.455)(35,0)};
\end{axis}
\begin{axis}[P,at={(\cJ,-\rH)},title={543},xtick={10,20,30},ytick={0,0.2,0.4,0.6},yp1]
\addplot[cc=90] coordinates {(4,0)(10,0.308)(10,0.334)(17.5,0.76)(17.5,0.729)(17.5,0.56)(25,0.624)(25,0.68)(30,0)};
\end{axis}
\begin{axis}[P,at={(\cK,-\rH)},title={544},xtick={10,20,30},ytick={0,0.2,0.4,0.6,0.8},yp1]
\addplot[cc=90] coordinates {(4,0.237)(10,0.632)(17.5,0.835)(25,0.684)(30,0)};
\addplot[cc=90] coordinates {(4,0.194)(10,0.598)(17.5,0.835)(25,0.66)(30,0)};
\addplot[cc=90] coordinates {(4,0.159)(10,0.569)(17.5,0.748)(25,0.612)(30,0)};
\end{axis}
% ---------------- row 9
\begin{axis}[P,at={(\cA,-\rI)},title={553},xtick={5,10,15,20,25},ytick={0,0.2,0.4,0.6},yp1]
\addplot[cc=92] coordinates {(5,0)(10,0.22)(15,0.566)(20,0.699)(25,0.25)};
\addplot[cc=92] coordinates {(5,0)(10,0.21)(15,0.547)(20,0.667)(25,0.25)};
\addplot[cc=92] coordinates {(15,0.555)(20,0.64)(25,0.25)};
\end{axis}
\begin{axis}[P,at={(\cB,-\rI)},title={556},xtick={15,20,25,30,35},ytick={0,0.1,0.2,0.3},yp1]
\addplot[cc=92] coordinates {(15,0.235)(20,0.354)(25,0.354)(30,0.255)(33,0.132)(35,0)};
\addplot[cc=92] coordinates {(15,0.21)(20,0.337)(25,0.343)(30,0.227)(33,0.078)(35,0)};
\addplot[cc=92] coordinates {(15,0.185)(20,0.318)(25,0.333)(30,0.203)(33,0.066)(35,0)};
\addplot[cc=92] coordinates {(15,0.148)(20,0.288)(25,0.343)(30,0.148)(33,0.07)(35,0)};
\end{axis}
\begin{axis}[P,at={(\cC,-\rI)},title={558},xtick={2,4,6,8},ytick={0,0.1,0.2,0.3,0.4},yp1]
\addplot[cc=92] coordinates {(1,0.29)(2,0.34)(3,0.30)(4,0.39)(5,0.38)(6,0.44)(7,0.19)(8,0)};
\addplot[cc=92] coordinates {(1,0.27)(2,0.28)(3,0.36)(4,0.34)(5,0.36)(6,0.32)(7,0.10)(8,0)};
\addplot[cc=92] coordinates {(1,0.25)(2,0.26)(3,0.29)(4,0.32)(5,0.34)(6,0.28)(7,0.06)(8,0)};
\addplot[cc=92] coordinates {(1,0.24)(2,0.24)(3,0.25)(4,0.22)(5,0.26)(6,0.23)(7,0.02)(8,0)};
\addplot[cc=92] coordinates {(4,0.30)(5,0.32)(6,0.16)(7,0)};
\end{axis}
\begin{axis}[P,at={(\cD,-\rI)},title={559},xtick={20,25,30,35},ytick={0,0.1,0.2,0.3},yp1]
\addplot[cc=92] coordinates {(16,0)(18,0.067)(20,0.149)(22,0.196)(24,0.27)(28,0.306)(30,0.294)(32,0.197)(35,0)};
\addplot[cc=92] coordinates {(16,0)(18,0.054)(20,0.122)(22,0.165)(24,0.247)(28,0.286)(30,0.263)(32,0.172)(35,0)};
\addplot[cc=92] coordinates {(24,0.26)(28,0.276)(30,0.215)(32,0.12)(35,0)};
\end{axis}
\begin{axis}[P,at={(\cE,-\rI)},title={560},xtick={20,25,30,35},ytick={0,0.1,0.2},yp1]
\addplot[cc=92] coordinates {(16,0)(18,0.049)(20,0.10)(22,0.152)(24,0.277)(26,0.268)(28,0.269)(32,0.19)(35,0)};
\addplot[cc=92] coordinates {(16,0)(18,0.043)(20,0.095)(22,0.135)(24,0.267)(26,0.25)(28,0.25)(32,0.178)(35,0)};
\addplot[cc=92] coordinates {(22,0.12)(24,0.237)(26,0.255)(28,0.23)(32,0.164)(35,0)};
\end{axis}
\begin{axis}[P,at={(\cF,-\rI)},title={561},xtick={24,28,32},ytick={0,0.1,0.2,0.3},yp1]
\addplot[cc=92] coordinates {(22,0)(24,0.241)(26,0.30)(28,0.354)(32,0.356)(35,0)};
\addplot[cc=92] coordinates {(22,0)(24,0.212)(26,0.258)(28,0.328)(32,0.285)(35,0)};
\addplot[cc=92] coordinates {(24,0.23)(26,0.27)(28,0.345)(32,0.338)(35,0)};
\addplot[cc=92] coordinates {(28,0.33)(32,0.304)};
\end{axis}
\begin{axis}[P,at={(\cG,-\rI)},title={562},xtick={24,28,32},ytick={0,0.2,0.4},yp1]
\addplot[cc=92] coordinates {(22,0)(24,0.364)(26,0.497)(28,0.552)(32,0.484)(35,0)};
\addplot[cc=92] coordinates {(22,0)(24,0.352)(26,0.472)(28,0.507)(32,0.408)(35,0)};
\addplot[cc=92] coordinates {(28,0.53)(32,0.453)};
\end{axis}
\begin{axis}[P,at={(\cH,-\rI)},title={563},xtick={24,28,32},ytick={0,0.1,0.2,0.3,0.4,0.5},yp1]
\addplot[cc=92] coordinates {(22,0)(24,0.346)(26,0.496)(28,0.512)(32,0.486)(35,0)};
\addplot[cc=92] coordinates {(22,0)(24,0.316)(26,0.466)(28,0.50)(32,0.422)(35,0)};
\end{axis}
\begin{axis}[P,at={(\cI,-\rI)},title={570},xtick={5,10,15,20,25},ytick={0,0.2,0.4,0.6},yp1]
\addplot[cc=92] coordinates {(5,0)(10,0.179)(15,0.557)(20,0.615)(25,0)};
\end{axis}
\begin{axis}[P,at={(\cJ,-\rI)},title={571},xtick={5,10,15,20,25},ytick={0,0.1,0.2,0.3,0.4,0.5},yp1]
\addplot[cc=92] coordinates {(5,0)(10,0.066)(15,0.485)(20,0.487)(25,0)};
\end{axis}
\begin{axis}[P,at={(\cK,-\rI)},title={572},xtick={10,15,20,25,30},ytick={0,0.2,0.4},yp1]
\addplot[cc=92] coordinates {(10,0)(15,0.065)(20,0.55)(25,0.55)(30,0)};
\end{axis}
% ---------------- row 10
\begin{axis}[P,at={(\cA,-\rJ)},title={573},xtick={10,15,20,25,30},ytick={0,0.2,0.4},yp1]
\addplot[cc=92] coordinates {(10,0)(15,0.271)(20,0.55)(25,0.55)(30,0)};
\end{axis}
\begin{axis}[P,at={(\cB,-\rJ)},title={603},xtick={15,20,25,30,35},ytick={0,0.5,1,1.5},yp1]
\addplot[cc=92] coordinates {(14.6,0.546)(17.3,0.834)(19.6,1.144)(22.8,1.367)(25.6,1.569)(29.1,1.615)(32.3,0.778)(35.7,-0.198)};
\end{axis}
\begin{axis}[P,at={(\cC,-\rJ)},title={606},xtick={5,10,15,20},ytick={0,0.2,0.4,0.6},yp1]
\addplot[cc=92] coordinates {(4,0.27)(6,0.41)(11,0.53)(13,0.58)(16,0.594)(20,0)};
\addplot[cc=92] coordinates {(4,0.20)(6,0.38)(11,0.47)(13,0.46)(16,0.42)(20,0)};
\addplot[cc=92] coordinates {(4,0.17)(6,0.35)(11,0.44)(13,0.42)(16,0.40)(20,0)};
\addplot[cc=92] coordinates {(4,0.12)(6,0.30)(11,0.26)(13,0.29)(16,0.25)(20,0)};
\addplot[cc=92] coordinates {(4,0.10)(6,0.23)(11,0.35)(13,0.36)(16,0.35)(20,0)};
\addplot[cc=92] coordinates {(4,0.07)(6,0.20)(11,0.44)(13,0.46)(16,0.32)(20,0)};
\addplot[cc=92] coordinates {(4,0.03)(6,0.09)(11,0.09)(13,0.05)(16,0.045)(20,0)};
\addplot[cc=92] coordinates {(4,0)(6,0.025)(16,0)(20,0)};
\end{axis}
% ---------------- titles and legend
\node[font=\bigf, anchor=center] at (412.2pt,-853pt) {temperature};
\node[font=\bigf, rotate=90, anchor=center] at (10.5pt,-428pt) {growth\_rate\_mu};
\node[font=\bigf, anchor=west, inner sep=0pt] at (801.1pt,-383pt) {curve\_code};
\shade[bottom color=lo, top color=hi] (801.1pt,-476.4pt) rectangle (818.3pt,-390pt);
\foreach \yy/\lab in {408.2/900,431.3/600,455.0/300}{
  \draw[white, line width=0.5pt] (801.1pt,-\yy pt) -- ++(3.4pt,0);
  \draw[white, line width=0.5pt] (818.3pt,-\yy pt) -- ++(-3.4pt,0);
  \node[font=\tf, anchor=west, inner sep=0pt] at (822.7pt,-\yy pt) {\lab};
}
\end{tikzpicture}
\end{document}
